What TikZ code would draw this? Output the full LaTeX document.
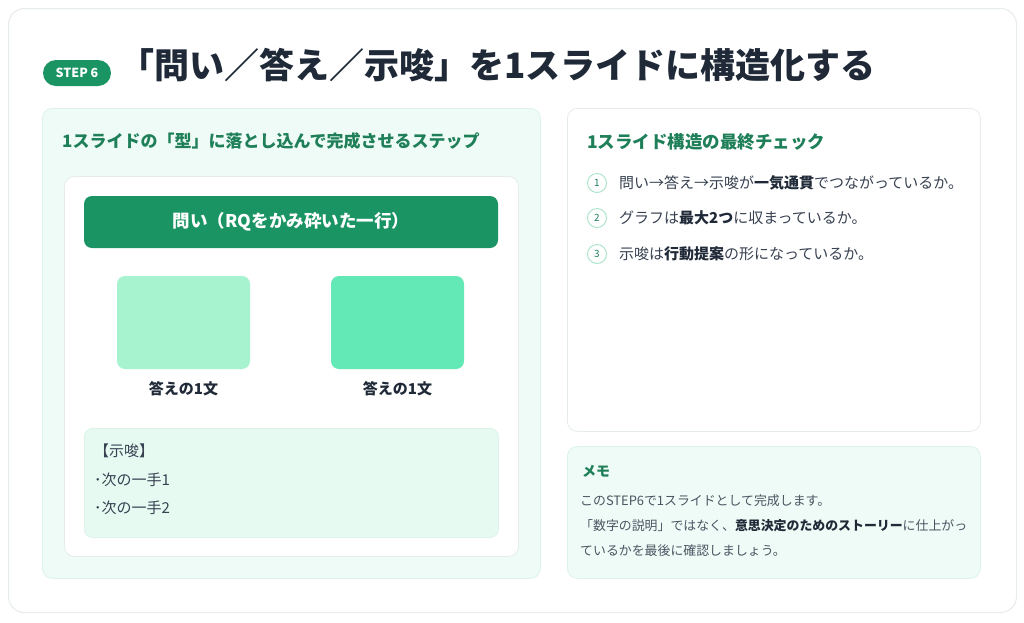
\documentclass[tikz,border=0pt]{standalone}
\usepackage{fontspec}
\setmainfont{Noto Sans CJK JP}
\usetikzlibrary{positioning}

\definecolor{deepgreen}{HTML}{1B9463}
\definecolor{headgreen}{HTML}{1E7F59}
\definecolor{navy}{HTML}{1F2937}
\definecolor{bodygray}{HTML}{374151}
\definecolor{memogray}{HTML}{4B5563}
\definecolor{mintbg}{HTML}{EFFBF6}
\definecolor{mintbox}{HTML}{E6FAF1}
\definecolor{mintline}{HTML}{DDF3E9}
\definecolor{cardline}{HTML}{E6ECE9}
\definecolor{paleanswer}{HTML}{A7F3D0}
\definecolor{brightanswer}{HTML}{62E9B5}
\definecolor{numline}{HTML}{A7E3C8}

\newcommand{\keyterm}[1]{{\bfseries\color{navy}#1}}

\tikzstyle{frame} = [rounded corners=16pt, fill=white, draw=cardline, line width=1pt, anchor=north west, inner sep=0pt]
\tikzstyle{panel} = [rounded corners=10pt, fill=mintbg, draw=mintline, line width=0.8pt, anchor=north west, inner sep=0pt]
\tikzstyle{card} = [rounded corners=10pt, fill=white, draw=cardline, line width=0.8pt, anchor=north west, inner sep=0pt]
\tikzstyle{heading} = [anchor=west, text=headgreen, font=\fontsize{17}{20}\selectfont\bfseries, inner sep=0pt]
\tikzstyle{body} = [anchor=west, text=bodygray, font=\fontsize{15}{18}\selectfont, inner sep=0pt]
\tikzstyle{answerbox} = [rounded corners=8pt, minimum width=133pt, minimum height=93pt, inner sep=0pt]
\tikzstyle{answerlabel} = [text=navy, font=\fontsize{15}{18}\selectfont\bfseries, inner sep=0pt]
\tikzstyle{numbadge} = [circle, draw=numline, line width=0.9pt, minimum size=19pt, inner sep=0pt, text=headgreen, font=\fontsize{10}{11}\selectfont]

\begin{document}
\begin{tikzpicture}[x=1pt,y=-1pt]
  \useasboundingbox (0,0) rectangle (1024,622);

  % outer card and title
  \node[frame, minimum width=1008pt, minimum height=604pt] (sheet) at (8,8) {};
  \node[rounded corners=13pt, fill=deepgreen, text=white, minimum width=68pt, minimum height=26pt, inner sep=0pt,
        font=\fontsize{12.5}{13}\selectfont\bfseries] (step) at (77,73) {STEP 6};
  \node[anchor=west, inner sep=0pt, text=navy, font=\fontsize{35}{40}\selectfont\bfseries] (title) at (119,65)
    {「問い／答え／示唆」を1スライドに構造化する};

  % left panel
  \node[panel, minimum width=498pt, minimum height=470pt] (leftpanel) at (42,108) {};
  \node[heading] (lefthead) at (62,141) {1スライドの「型」に落とし込んで完成させるステップ};
  \node[card, minimum width=454pt, minimum height=380pt] (slide) at (64,176) {};
  \node[rounded corners=8pt, fill=deepgreen, text=white, minimum width=414pt, minimum height=52pt, inner sep=0pt,
        font=\fontsize{17.5}{20}\selectfont\bfseries] (question) at (291,222) {問い（RQをかみ砕いた一行）};

  \foreach \name/\x/\shade in {answerA/183.5/paleanswer, answerB/397.5/brightanswer}
  {
    \node[answerbox, fill=\shade] (\name) at (\x,322.5) {};
    \node[answerlabel, below=12pt of \name] (\name label) {答えの1文};
  };

  \node[rounded corners=8pt, fill=mintbox, draw=mintline, line width=0.8pt, anchor=north west,
        minimum width=414pt, minimum height=109pt, inner sep=0pt] (implication) at (84,428) {};
  \node[anchor=north west, inner sep=0pt, align=left, text=bodygray, font=\fontsize{15}{28.5}\selectfont]
    (implicationtext) at (94,444) {【示唆】\\･次の一手1\\･次の一手2};

  % right panel: checklist
  \node[card, minimum width=413pt, minimum height=323pt] (checkpanel) at (567,108) {};
  \node[heading, font=\fontsize{17.5}{20}\selectfont\bfseries] (checkhead) at (587,142) {1スライド構造の最終チェック};
  \foreach \num/\y/\txt in {
    1/183/{問い→答え→示唆が\keyterm{一気通貫}でつながっているか。},
    2/218/{グラフは\keyterm{最大2つ}に収まっているか。},
    3/254/{示唆は\keyterm{行動提案}の形になっているか。}}
  {
    \node[numbadge] (num\num) at (597,\y) {\num};
    \node[body, right=12pt of num\num] (check\num) {\txt};
  };

  % right panel: memo
  \node[panel, minimum width=413pt, minimum height=132pt] (memopanel) at (567,446) {};
  \node[heading, font=\fontsize{14}{16}\selectfont\bfseries] (memohead) at (582,471) {メモ};
  \node[anchor=north west, inner sep=0pt, align=left, text=memogray, font=\fontsize{12.9}{25}\selectfont]
    (memotext) at (580,494)
    {このSTEP6で1スライドとして完成します。\\
     「数字の説明」ではなく、\keyterm{意思決定のためのストーリー}に仕上がっ\\
     ているかを最後に確認しましょう。};
\end{tikzpicture}
\end{document}
